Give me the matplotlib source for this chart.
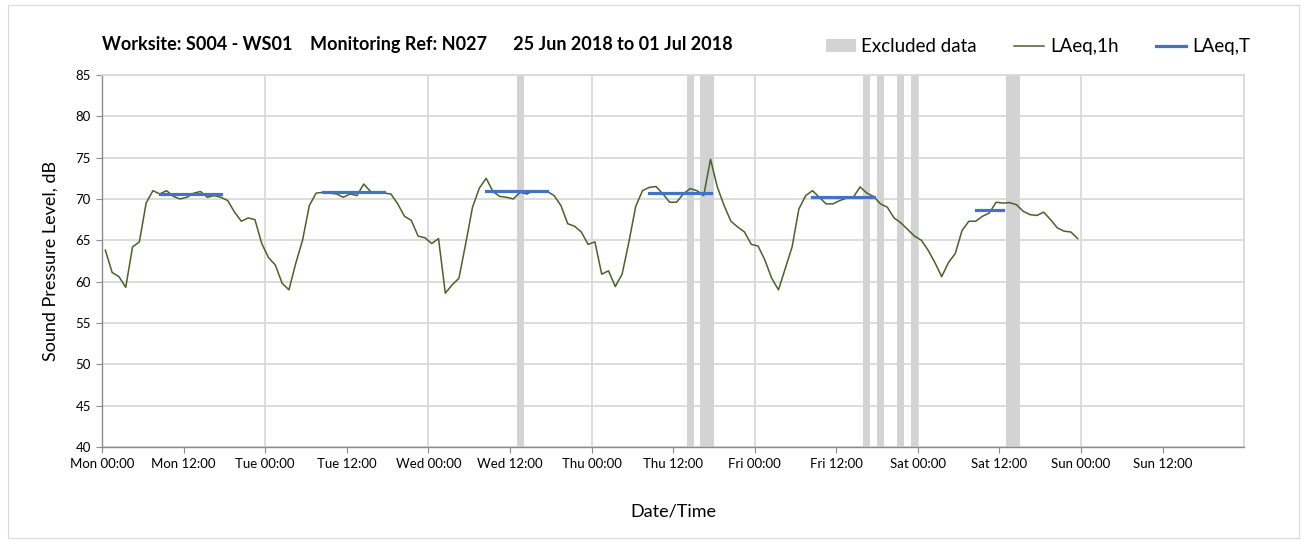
import numpy as np
import pandas as pd
import matplotlib
matplotlib.use('Agg')
from matplotlib import pyplot as plt
from matplotlib.patches import Rectangle

plt.rcParams['font.family'] = ['Lato', 'DejaVu Sans']

# hourly LAeq,1h values, 25 Jun 2018 00:00 .. 30 Jun 2018 23:00
laeq_1h = [
    63.8, 61.1, 60.6, 59.3, 64.2, 64.8, 69.5, 71.0, 70.6, 71.0, 70.3, 70.0,
    70.2, 70.7, 70.9, 70.2, 70.4, 70.2, 69.8, 68.4, 67.3, 67.7, 67.5, 64.6,
    62.9, 62.0, 59.8, 59.0, 62.2, 65.0, 69.2, 70.7, 70.8, 70.7, 70.6, 70.2,
    70.6, 70.4, 71.8, 70.9, 70.7, 70.7, 70.6, 69.4, 67.9, 67.4, 65.5, 65.3,
    64.6, 65.2, 58.6, 59.6, 60.4, 64.6, 69.0, 71.3, 72.5, 70.9, 70.3, 70.2,
    70.0, 70.8, 70.6, 71.0, 70.9, 70.9, 70.4, 69.2, 67.0, 66.7, 66.0, 64.5,
    64.8, 60.9, 61.3, 59.4, 60.9, 64.8, 69.1, 71.0, 71.4, 71.5, 70.6, 69.6,
    69.6, 70.6, 71.25, 71.0, 70.4, 74.8, 71.45, 69.2, 67.3, 66.6, 66.0, 64.5,
    64.3, 62.6, 60.4, 59.0, 61.6, 64.2, 68.8, 70.4, 71.0, 70.2, 69.4, 69.4,
    69.8, 70.1, 70.2, 71.45, 70.7, 70.3, 69.4, 69.0, 67.7, 67.1, 66.3, 65.5,
    65.0, 63.8, 62.3, 60.6, 62.3, 63.4, 66.2, 67.3, 67.3, 67.9, 68.3, 69.6,
    69.5, 69.55, 69.3, 68.5, 68.1, 68.0, 68.4, 67.5, 66.5, 66.1, 66.0, 65.2,
]

# LAeq,T over each daytime period: first hour, last hour (inclusive), level
period_start = ['2018-06-25 08:00', '2018-06-26 08:00', '2018-06-27 08:00',
                '2018-06-28 08:00', '2018-06-29 08:00', '2018-06-30 08:00']
period_end = ['2018-06-25 17:00', '2018-06-26 17:00', '2018-06-27 17:00',
              '2018-06-28 17:00', '2018-06-29 17:00', '2018-06-30 12:00']
laeq_t = [70.55, 70.8, 70.9, 70.7, 70.2, 68.6]

# hours flagged as excluded data
excluded_hours = ['2018-06-27 13:00', '2018-06-28 14:00', '2018-06-28 16:00',
                  '2018-06-28 17:00', '2018-06-29 16:00', '2018-06-29 18:00',
                  '2018-06-29 21:00', '2018-06-29 23:00', '2018-06-30 13:00',
                  '2018-06-30 14:00']

tick_labels = ['Mon 00:00', 'Mon 12:00', 'Tue 00:00', 'Tue 12:00',
               'Wed 00:00', 'Wed 12:00', 'Thu 00:00', 'Thu 12:00',
               'Fri 00:00', 'Fri 12:00', 'Sat 00:00', 'Sat 12:00',
               'Sun 00:00', 'Sun 12:00']

half = pd.Timedelta(minutes=30)
hour = pd.Timedelta(hours=1)
times = pd.date_range('2018-06-25 00:00', periods=len(laeq_1h), freq='h') + half

grid_col = '#d9d9d9'
axis_col = '#8c8c8c'

fig = plt.figure(figsize=(13.07, 5.47), dpi=100)
fig.patches.append(Rectangle((0.006, 0.016), 0.988, 0.975, transform=fig.transFigure,
                             fill=False, edgecolor='#d9d9d9', linewidth=0.8))
ax = fig.add_axes([0.078, 0.183, 0.874, 0.680])

x0 = pd.Timestamp('2018-06-25 00:00')
x1 = pd.Timestamp('2018-07-02 00:00')
ax.set_xlim(x0, x1)
ax.set_ylim(40, 85)

# daily vertical grid lines
for d in pd.date_range(x0, x1, freq='D')[1:]:
    ax.axvline(d, color=grid_col, linewidth=1.3, zorder=0)
ax.yaxis.grid(True, color=grid_col, linewidth=1.3, zorder=0)
ax.set_axisbelow(True)

first = True
for h in excluded_hours:
    t = pd.Timestamp(h)
    ax.axvspan(t, t + hour, color='#d3d3d3', linewidth=0, zorder=1,
               label='Excluded data' if first else None)
    first = False

ax.plot(times, laeq_1h, color='#4a6129', linewidth=1.1, zorder=3, label='LAeq,1h')

first = True
for s, e, v in zip(period_start, period_end, laeq_t):
    ts = pd.Timestamp(s) + half
    te = pd.Timestamp(e) + half
    ax.plot([ts, te], [v, v], color='#4472c4', linewidth=2.3,
            solid_capstyle='projecting', zorder=4,
            label='LAeq,T' if first else None)
    first = False

ticks = pd.date_range(x0, periods=len(tick_labels), freq='12h')
ax.set_xticks(ticks)
ax.set_xticklabels(tick_labels, fontsize=9.5)
ax.set_yticks(np.arange(40, 86, 5))
ax.tick_params(axis='both', direction='out', length=4, color=axis_col,
               labelsize=9.5, pad=4)

for side in ['left', 'bottom']:
    ax.spines[side].set_color(axis_col)
    ax.spines[side].set_linewidth(1.0)
for side in ['top', 'right']:
    ax.spines[side].set_color(grid_col)
    ax.spines[side].set_linewidth(1.3)

ax.set_ylabel('Sound Pressure Level, dB', fontsize=13, labelpad=12)
ax.set_xlabel('Date/Time', fontsize=13, labelpad=24)

fig.text(0.078, 0.903, 'Worksite: S004 - WS01    Monitoring Ref: N027      25 Jun 2018 to 01 Jul 2018',
         fontsize=13, fontweight='bold', ha='left', va='bottom')

handles, labels = ax.get_legend_handles_labels()
fig.legend(handles, labels, loc='lower right', bbox_to_anchor=(0.962, 0.885),
           ncol=3, frameon=False, fontsize=13.5, handlelength=1.6,
           handletextpad=0.3, columnspacing=2.0, borderaxespad=0)

fig.savefig('out.png', dpi=100)
